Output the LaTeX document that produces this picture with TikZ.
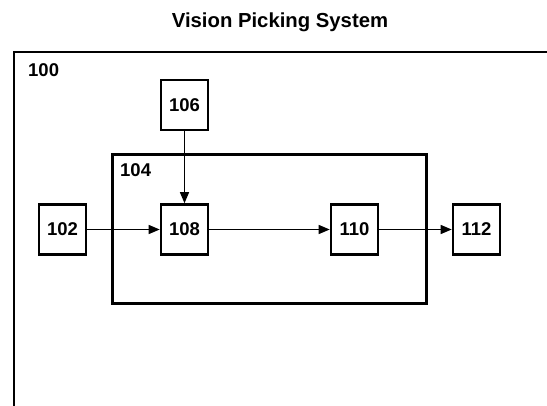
\documentclass[tikz,border=0pt]{standalone}
\usepackage{fontspec}
\setmainfont{Liberation Sans}
\usetikzlibrary{arrows.meta,positioning}
\tikzset{unitbox/.style={draw,line width=2.6pt,minimum width=47pt,minimum height=50pt,inner sep=0pt,font=\fontsize{18.5}{20}\selectfont\bfseries},
framebox/.style={draw,line width=2.8pt,inner sep=0pt},
framelabel/.style={anchor=west,inner sep=0pt,font=\fontsize{18.5}{20}\selectfont\bfseries},
flowarr/.style={-{Triangle[length=11pt,width=9pt]},line width=1.3pt}}
\begin{document}
\begin{tikzpicture}[x=1pt,y=-1pt]
\useasboundingbox (0,0) rectangle (547,406);
\node[font=\fontsize{20.3}{22}\selectfont\bfseries] (title) at (280,22) {Vision Picking System};
\node[framebox,minimum width=546pt,minimum height=368pt] (system) at (287,236) {};
\node[framelabel] (syslabel) at (28,70) {100};
\node[framebox,minimum width=314.5pt,minimum height=149.5pt] (module) at (269.5,229) {};
\node[framelabel] (modlabel) at (120,170) {104};
\node[unitbox] (u102) at (62.5,229.5) {102};
\node[unitbox] (u106) at (184.5,105) {106};
\node[unitbox] (u108) at (184.5,229.5) {108};
\node[unitbox] (u110) at (354.5,229.5) {110};
\node[unitbox] (u112) at (476.5,229.5) {112};
\draw[flowarr] (u106)--(u108);
\draw[flowarr] (u102)--(u108);
\draw[flowarr] (u108)--(u110);
\draw[flowarr] (u110)--(u112);
\end{tikzpicture}
\end{document}
